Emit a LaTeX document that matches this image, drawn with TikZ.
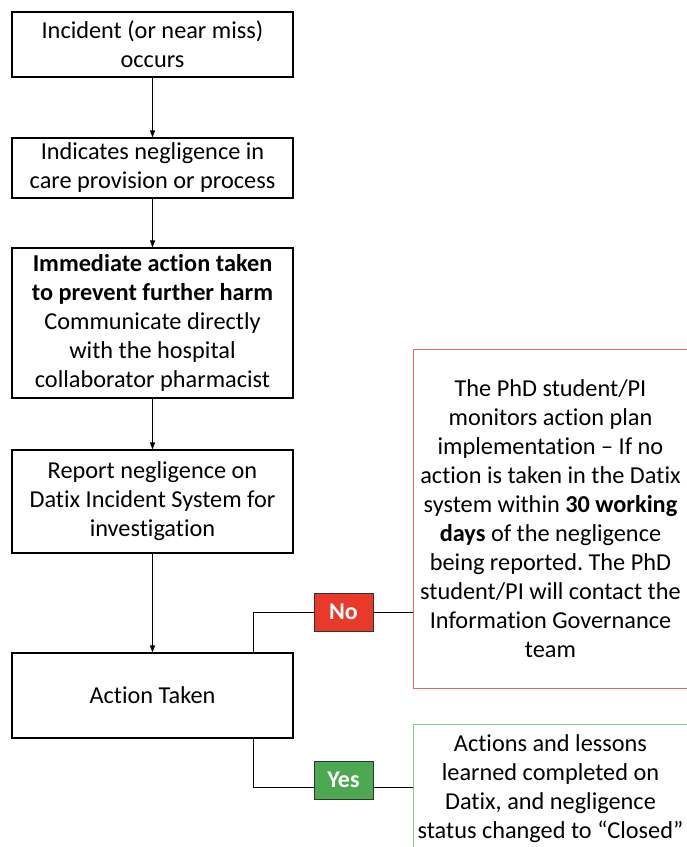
\documentclass[tikz,border=0pt]{standalone}
\usepackage{fontspec}
\setmainfont{Carlito}[Ligatures=NoCommon]
\frenchspacing
\usetikzlibrary{arrows.meta}
\definecolor{noRed}{HTML}{E8392A}
\definecolor{yesGreen}{HTML}{4CA952}
\definecolor{redEdge}{HTML}{E06A66}
\definecolor{greenEdge}{HTML}{86C98A}
\begin{document}
\begin{tikzpicture}[x=1pt,y=-1pt,
  every node/.style={font=\fontsize{24.3}{29}\selectfont, align=center, inner sep=0pt},
  stepbox/.style={draw=black, line width=1.1pt, minimum width=281pt},
  notebox/.style={line width=1pt, minimum width=275pt},
  tag/.style={draw=black!80, line width=1pt, minimum width=59pt, minimum height=38pt,
    text=white, font=\fontsize{24}{26}\selectfont\bfseries},
  flow/.style={line width=0.8pt, -{Triangle[length=7pt,width=5pt]}},
  link/.style={line width=0.8pt}
]
\useasboundingbox (0,0) rectangle (687,847);
\clip (0,0) rectangle (687,847);

% main column
\node[stepbox, minimum height=65pt] (incident) at (152.5,44.5) {Incident (or near miss)\\occurs};
\node[stepbox, minimum height=60pt] (indicates) at (152.5,168) {Indicates negligence in\\care provision or process};
\node[stepbox, minimum height=150pt] (immediate) at (152.5,323)
  {\textbf{Immediate action taken}\\\textbf{to prevent further harm}\\Communicate directly\\with the hospital\\collaborator pharmacist};
\node[stepbox, minimum height=103pt] (report) at (152.5,501.5) {Report negligence on\\Datix Incident System for\\investigation};
\node[stepbox, minimum height=85pt] (action) at (152.5,695.5) {Action Taken};

% outcome boxes on the right
\node[notebox, draw=redEdge, minimum height=339pt] (monitor) at (550.5,518.5)
  {The PhD student/PI\\monitors action plan\\implementation -- If no\\action is taken in the Datix\\system within \textbf{30 working}\\\textbf{days} of the negligence\\being reported. The PhD\\student/PI will contact the\\Information Governance\\team};
\node[notebox, draw=greenEdge, minimum height=130pt] (closed) at (550.5,789)
  {Actions and lessons\\learned completed on\\Datix, and negligence\\status changed to “Closed”};

% decision tags
\node[tag, fill=noRed] (no) at (343.5,612) {No};
\node[tag, fill=yesGreen] (yes) at (343.5,780) {Yes};

% flow arrows
\draw[flow] (incident) -- (indicates);
\draw[flow] (indicates) -- (immediate);
\draw[flow] (immediate) -- (report);
\draw[flow] (report) -- (action);

% branches
\coordinate (noTurn) at (253,612);
\coordinate (yesTurn) at (253,787);
\draw[link] (action.north -| noTurn) -- (noTurn) -- (no.west);
\draw[link] (no.east) -- (no.east -| monitor.west);
\draw[link] (action.south -| yesTurn) -- (yesTurn) -- (yesTurn -| yes.west);
\draw[link] (yesTurn -| yes.east) -- (yesTurn -| closed.west);
\end{tikzpicture}
\end{document}
